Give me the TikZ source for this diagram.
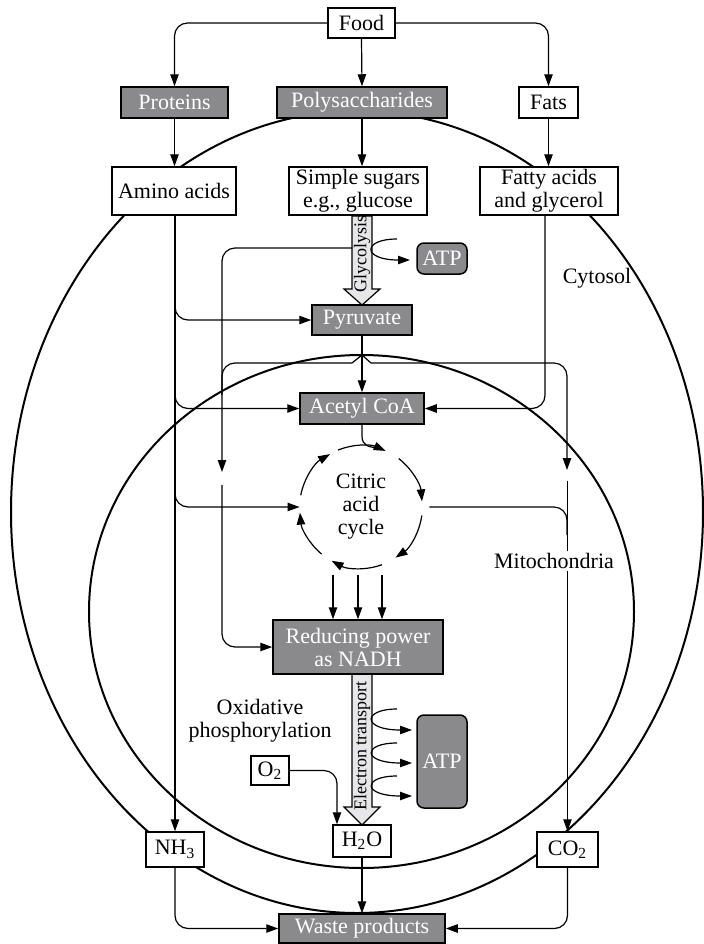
\documentclass[tikz,border=0pt]{standalone}
\usepackage{fontspec}
\setmainfont{Liberation Serif}
\usetikzlibrary{arrows.meta,backgrounds}
\definecolor{boxgray}{RGB}{138,138,141}
\definecolor{fatfill}{RGB}{231,231,233}
\begin{document}
\begin{tikzpicture}[x=0.5pt,y=-0.5pt,
  every node/.style={font=\fontsize{11}{11.5}\selectfont},
  wbox/.style={draw, fill=white, line width=0.75pt, inner sep=0pt, align=center},
  gbox/.style={wbox, fill=boxgray, text=white},
  rbox/.style={gbox, rounded corners=3.5pt},
  conn/.style={line width=0.6pt},
  arr/.style={conn, -{Triangle[length=6pt,width=4.2pt]}},
  rc/.style={rounded corners=6.5pt},
  memb/.style={line width=1pt},
  fat/.style={draw, line width=0.6pt, fill=fatfill},
  small/.style={font=\fontsize{9}{10}\selectfont},
]
\useasboundingbox (0,0) rectangle (703,944);

% boxes
\node[wbox, minimum width=33.5pt, minimum height=15pt] (food) at (361.5,23) {Food};
\node[gbox, minimum width=53.5pt, minimum height=15.5pt] (prot) at (174.5,102.5) {Proteins};
\node[gbox, minimum width=85pt, minimum height=15.5pt] (poly) at (362,102.5) {Polysaccharides};
\node[wbox, minimum width=29.5pt, minimum height=15.5pt] (fats) at (548.5,102.5) {Fats};
\node[wbox, minimum width=62pt, minimum height=24pt] (amino) at (174,191) {Amino acids};
\node[wbox, minimum width=69pt, minimum height=24pt] (sugar) at (358,191) {Simple sugars\\e.g., glucose};
\node[wbox, minimum width=69pt, minimum height=24pt] (fatty) at (549,191) {Fatty acids\\and glycerol};
\node[gbox, minimum width=50pt, minimum height=15pt] (pyr) at (362,320) {Pyruvate};
\node[gbox, minimum width=62pt, minimum height=15.5pt] (acoa) at (362,408.5) {Acetyl CoA};
\node[circle, minimum size=61pt, inner sep=0pt, align=center] (cyc) at (361,507) {Citric\\acid\\cycle};
\node[gbox, minimum width=85pt, minimum height=27pt] (nadh) at (358,647) {Reducing power\\as NADH};
\node[rbox, minimum width=25pt, minimum height=15.5pt] (atpa) at (442,258.5) {ATP};
\node[rbox, minimum width=25pt, minimum height=46.5pt] (atpb) at (442,761.5) {ATP};
\node[wbox, minimum width=19pt, minimum height=14.5pt] (o2) at (270,770.5) {O\textsubscript{2}};
\node[wbox, minimum width=29pt, minimum height=16pt] (h2o) at (362,841) {H\textsubscript{2}O};
\node[wbox, minimum width=29pt, minimum height=17.5pt] (nh3) at (175,849.5) {NH\textsubscript{3}};
\node[wbox, minimum width=30.5pt, minimum height=17.5pt] (co2) at (567.5,849.5) {CO\textsubscript{2}};
\node[gbox, minimum width=83pt, minimum height=14.5pt] (waste) at (362,928.5) {Waste products};
\node (cyto) at (597,278) {Cytosol};
\node[fill=white, inner sep=1pt] (mito) at (554,561) {Mitochondria};
\node[align=center] (oxph) at (260,721) {Oxidative\\phosphorylation};
\node[small, rotate=90] (glyc) at (362,254) {Glycolysis};
\node[small, rotate=90] (etr) at (362,746) {Electron transport};

% free ends
\coordinate (pk) at (362,355);
\coordinate (gl) at (352,248);
\coordinate (la) at (222,472);
\coordinate (lb) at (222,485);
\coordinate (ra) at (567,470);
\coordinate (rb) at (567,482);
\coordinate (d1) at (333,575);
\coordinate (d2) at (358,575);
\coordinate (d3) at (382,575);

\begin{scope}[on background layer]
  % membranes
  \draw[memb] (357,512) ellipse [x radius=173pt, y radius=200.5pt];
  \draw[memb] (361.5,611.5) ellipse [x radius=136.25pt, y radius=128.25pt];
  % fat arrows
  \draw[fat] (352,216) -- (372,216) -- (372,289) -- (380,289) -- (362,305) -- (344,289) -- (352,289) -- cycle;
  \draw[fat] (352,674) -- (372,674) -- (372,807) -- (380,807) -- (362,825) -- (344,807) -- (352,807) -- cycle;
  % top
  \draw[arr, rc] (food.west) -| (prot.north);
  \draw[arr, rc] (food.east) -| (fats.north);
  \draw[arr] (food.south) -- (poly.north);
  \draw[arr] (prot.south) -- (prot.south |- amino.north);
  \draw[arr] (poly.south) -- (poly.south |- sugar.north);
  \draw[arr] (fats.south) -- (fats.south |- fatty.north);
  % amino acids
  \draw[arr] (nh3.north |- amino.south) -- (nh3.north);
  \draw[arr, rc] (175,300) |- (pyr.west);
  \draw[arr, rc] (175,390) |- (acoa.west);
  \draw[arr, rc] (175,490) |- (cyc.west);
  % fatty acids
  \draw[arr, rc] ([xshift=-2pt]fatty.south) |- (acoa.east);
  % pyruvate
  \draw[arr] (pyr.south) -- (acoa.north);
  \draw[conn] (pk) -- (352,363);
  \draw[conn, rc] (352,363) -| (222,395);
  \draw[conn] (pk) -- (371,363);
  \draw[arr, rc] (371,363) -| (ra);
  \draw[arr, rc] (gl) -| (la);
  \draw[arr, rc] (lb) |- (nadh.west);
  \draw[arr] (rb) -- (rb -| co2.north) -- (co2.north);
  \draw[conn, rc] ([xshift=3.5pt]cyc.east) -| (567,535);
  % glycolysis ATP
  \draw[arr] (397,239) .. controls (362,239) and (362,260) .. (410,260);
  % citric acid cycle
  \draw[conn] (acoa.south) -- (362,436) .. controls (362,446) and (369,447) .. (cyc.75);
  \draw[arr] (cyc.112) arc[start angle=112, end angle=66, radius=30.5pt];
  \draw[arr] (cyc.52) arc[start angle=52, end angle=5, radius=30.5pt];
  \draw[arr] (cyc.-8) arc[start angle=-8, end angle=-56, radius=30.5pt];
  \draw[arr] (cyc.-70) arc[start angle=-70, end angle=-119, radius=30.5pt];
  \draw[arr] (cyc.-130) arc[start angle=-130, end angle=-175, radius=30.5pt];
  \draw[arr] (cyc.169) arc[start angle=169, end angle=120, radius=30.5pt];
  \draw[arr] (d1) -- (d1 |- nadh.north);
  \draw[arr] (d2) -- (d2 |- nadh.north);
  \draw[arr] (d3) -- (d3 |- nadh.north);
  % electron transport ATP
  \draw[arr] (397,709) .. controls (362,709) and (362,730) .. (412,730);
  \draw[arr] (397,743) .. controls (362,743) and (362,763) .. (412,763);
  \draw[arr] (397,776) .. controls (362,776) and (362,796) .. (412,796);
  % bottom
  \draw[arr, rc] (o2.east) -| ([xshift=-12.5pt]h2o.north);
  \draw[arr] (h2o.south) -- (waste.north);
  \draw[arr, rc] (nh3.south) |- (waste.west);
  \draw[arr, rc] (co2.south) |- (waste.east);
\end{scope}
\end{tikzpicture}
\end{document}
